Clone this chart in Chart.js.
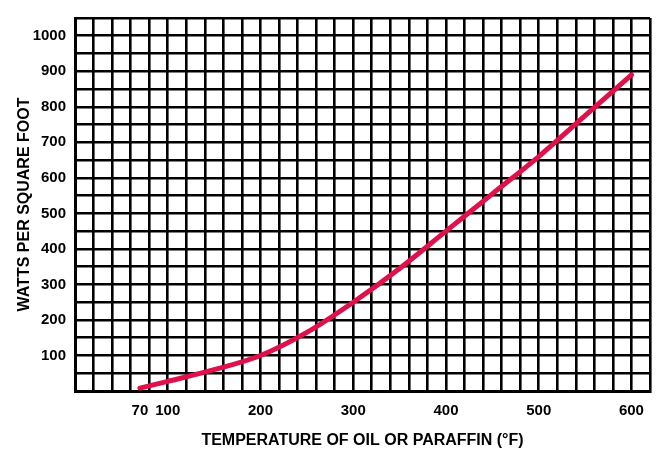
<!DOCTYPE html>
<html>
<head>
<meta charset="utf-8">
<script src="https://cdn.jsdelivr.net/npm/chart.js@4/dist/chart.umd.min.js"></script>
<style>
  html, body { margin: 0; padding: 0; background: #fff; }
  #wrap { width: 663px; height: 455px; }
</style>
</head>
<body>
<div id="wrap"><canvas id="myChart"></canvas></div>
<script>
// temperature (°F) vs watts per square foot
const temps = [70, 100, 150, 200, 250, 300, 350, 400, 450, 500, 550, 600];
const watts = [8, 27, 60, 100, 165, 250, 345, 450, 555, 660, 775, 890];

const xLabels = [70, 100, 200, 300, 400, 500, 600];
const yLabels = [100, 200, 300, 400, 500, 600, 700, 800, 900, 1000];

const points = temps.map((t, i) => ({ x: t, y: watts[i] }));

const tickFont = { family: "'Liberation Sans', Arial, sans-serif", size: 15, weight: 'bold' };
const titleFont = { family: "'Liberation Sans', Arial, sans-serif", size: 16, weight: 'bold' };

const chart = new Chart(document.getElementById('myChart'), {
  type: 'line',
  data: {
    datasets: [{
      data: points,
      borderColor: '#E0104A',
      borderWidth: 5,
      borderCapStyle: 'round',
      pointRadius: 0,
      cubicInterpolationMode: 'monotone',
      fill: false
    }]
  },
  options: {
    responsive: true,
    maintainAspectRatio: false,
    animation: false,
    layout: { padding: { left: 0, right: 13, top: 6, bottom: 0 } },
    plugins: { legend: { display: false }, tooltip: { enabled: false } },
    scales: {
      x: {
        type: 'linear',
        min: 0,
        max: 620,
        afterBuildTicks: (s) => {
          const t = [];
          for (let v = 0; v <= 620; v += 20) {
            t.push({ value: v });
            if (v === 60) t.push({ value: 70 });
          }
          s.ticks = t;
        },
        afterFit: (s) => { s.height = 64; },
        grid: {
          color: (c) => (c.tick && c.tick.value === 70) ? 'rgba(0,0,0,0)' : '#000',
          lineWidth: 2.6,
          drawTicks: false
        },
        border: { color: '#000', width: 3 },
        ticks: {
          autoSkip: false,
          maxRotation: 0,
          padding: 11,
          color: '#000',
          font: tickFont,
          callback: (v) => xLabels.includes(v) ? String(v) : ''
        },
        title: {
          display: true,
          text: 'TEMPERATURE OF OIL OR PARAFFIN (°F)',
          color: '#000',
          font: titleFont,
          padding: { top: 0, bottom: 5 }
        }
      },
      y: {
        min: 0,
        max: 1050,
        afterBuildTicks: (s) => {
          const t = [];
          for (let v = 0; v <= 1050; v += 50) t.push({ value: v });
          s.ticks = t;
        },
        afterFit: (s) => { s.width = 75; },
        grid: { color: '#000', lineWidth: 2.6, drawTicks: false },
        border: { color: '#000', width: 3 },
        ticks: {
          autoSkip: false,
          padding: 9,
          color: '#000',
          font: tickFont,
          callback: (v) => yLabels.includes(v) ? String(v) : ''
        },
        title: {
          display: true,
          text: 'WATTS PER SQUARE FOOT',
          color: '#000',
          font: titleFont,
          padding: { top: 15, bottom: 0 }
        }
      }
    }
  }
});
</script>
</body>
</html>
